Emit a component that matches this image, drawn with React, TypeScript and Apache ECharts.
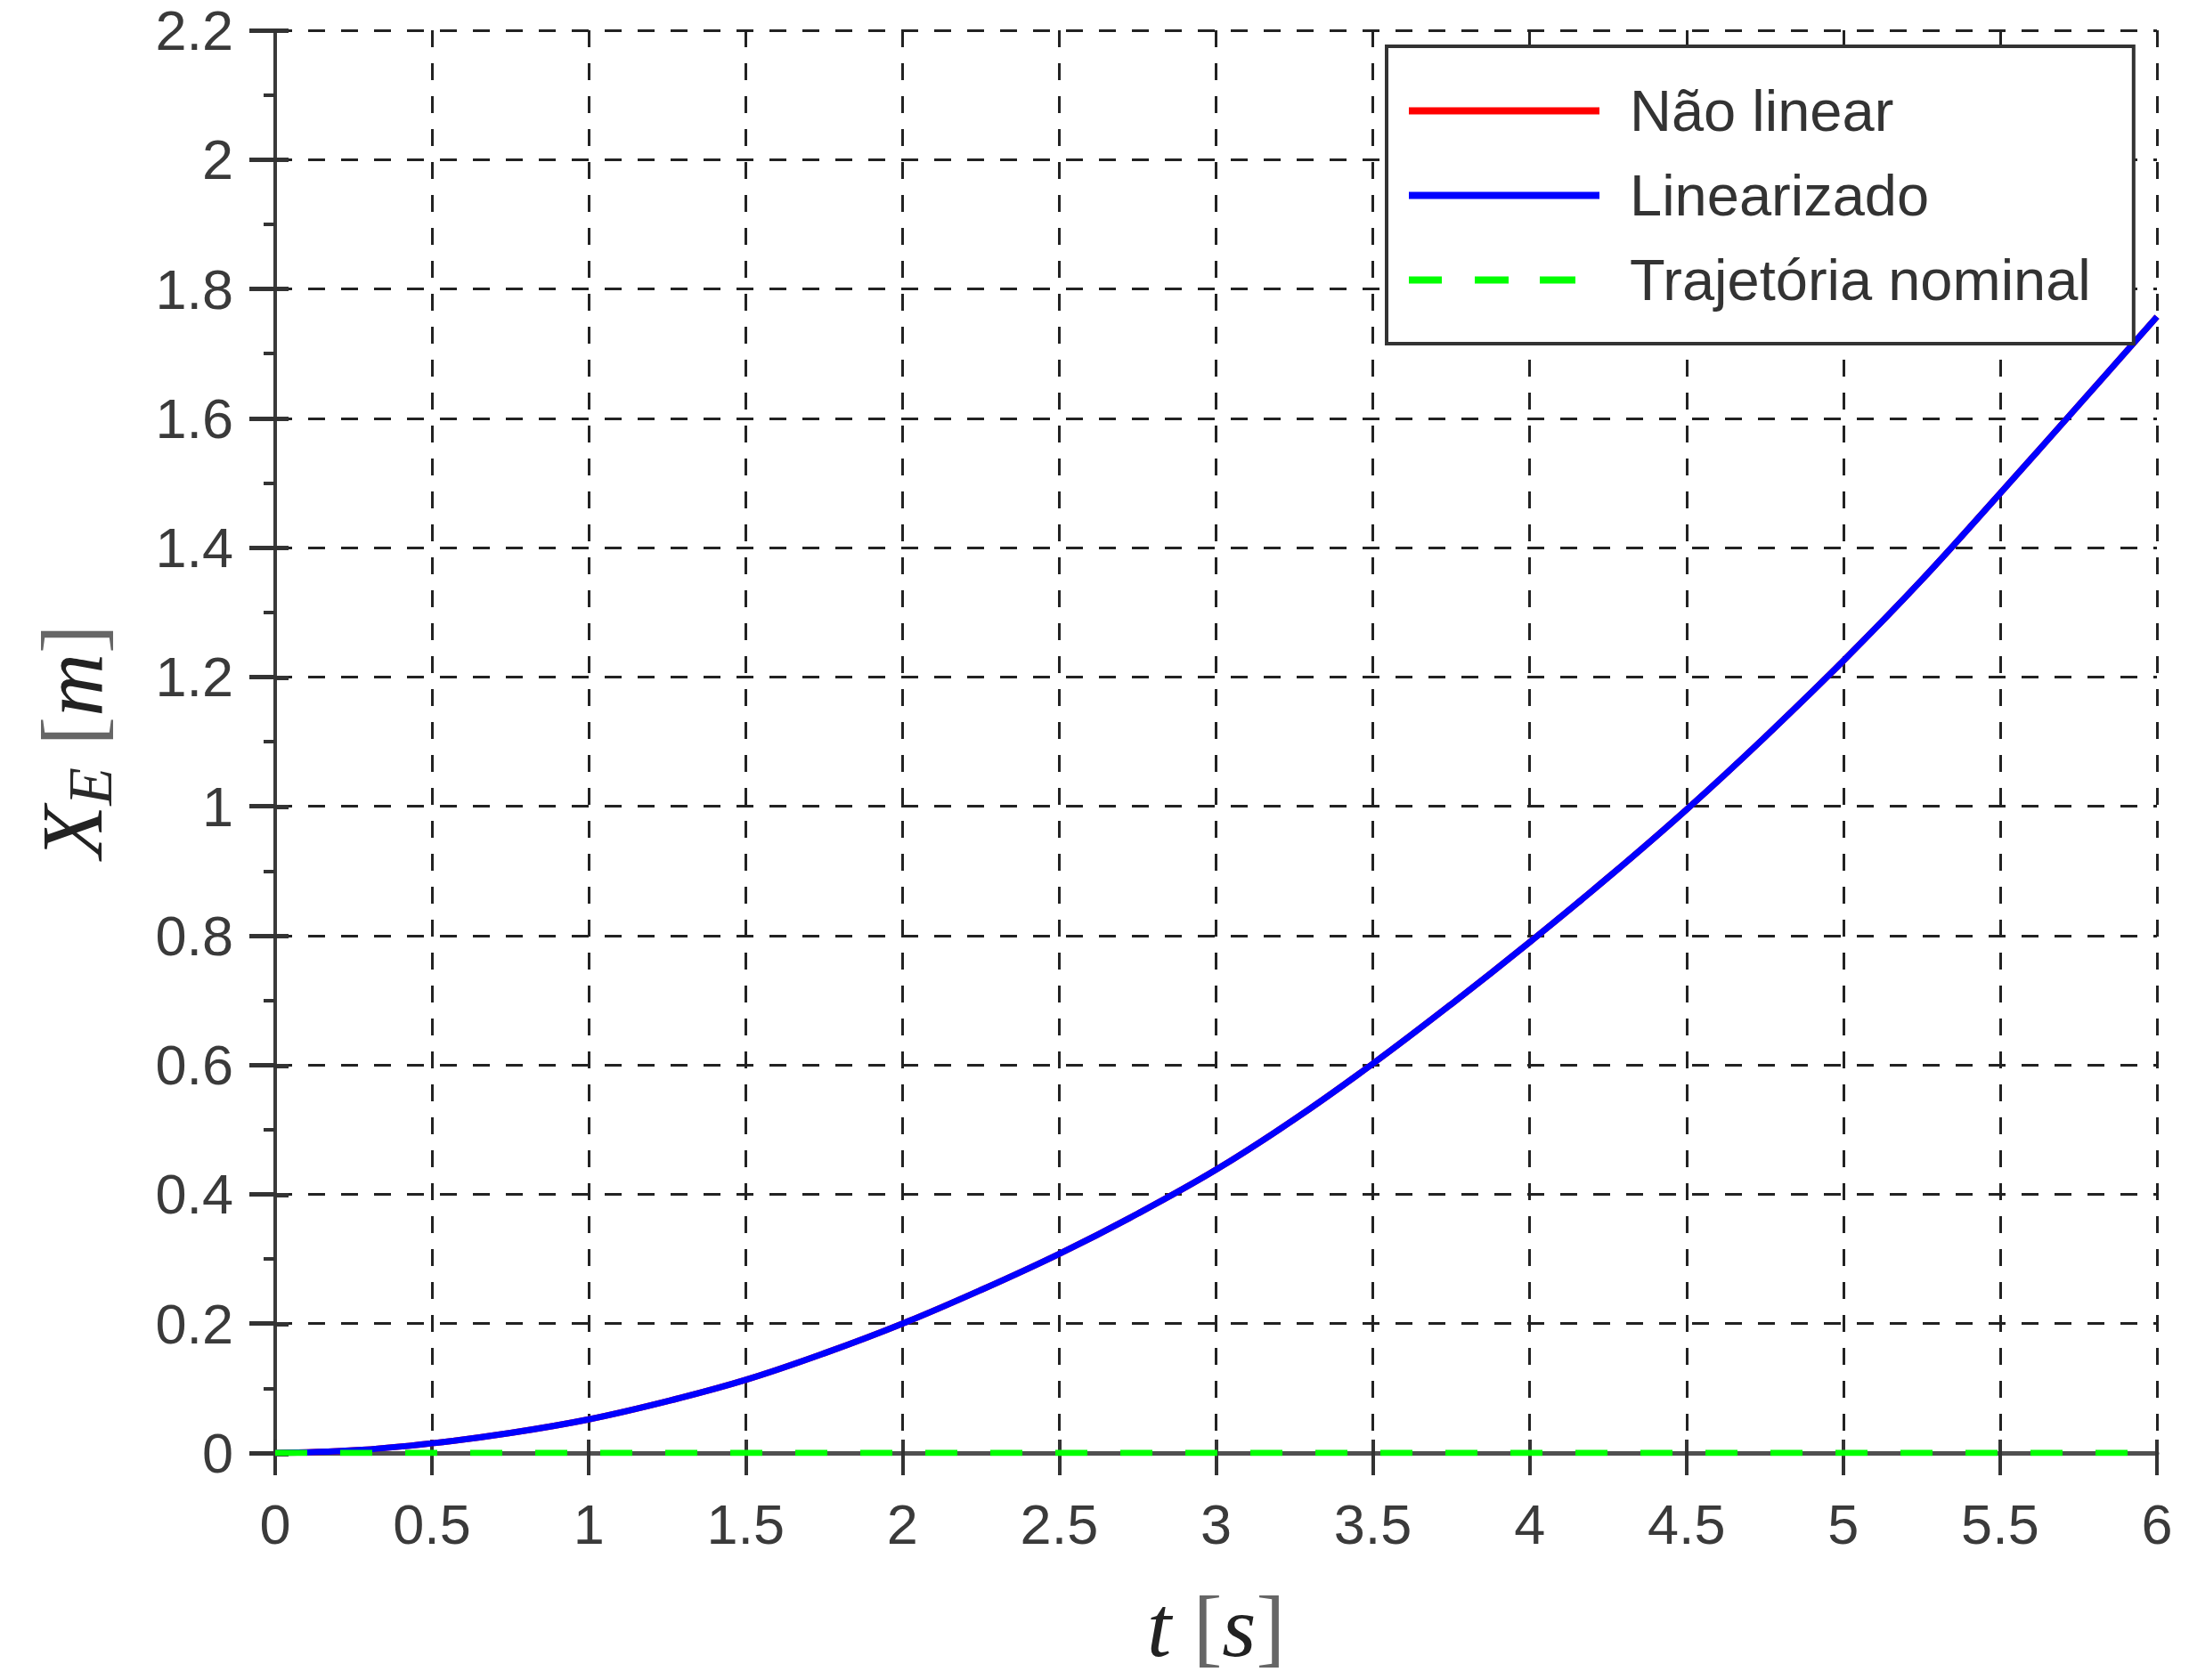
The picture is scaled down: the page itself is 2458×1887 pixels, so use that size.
import { useEffect, useRef } from 'react';
import * as echarts from 'echarts';

// Tempo de simulação [s]
const tempo = [0, 0.25, 0.5, 0.75, 1, 1.25, 1.5, 1.75, 2, 2.25, 2.5, 2.75, 3, 3.25, 3.5, 3.75, 4, 4.25, 4.5, 4.75, 5, 5.25, 5.5, 5.75, 6];

// Posição X_E [m] de cada modelo
const naoLinear = [0, 0.004, 0.015, 0.031, 0.052, 0.08, 0.113, 0.154, 0.2, 0.252, 0.308, 0.37, 0.438, 0.516, 0.602, 0.694, 0.79, 0.89, 0.995, 1.107, 1.225, 1.35, 1.484, 1.62, 1.757];
const linearizado = [0, 0.004, 0.015, 0.031, 0.052, 0.08, 0.113, 0.154, 0.2, 0.252, 0.308, 0.37, 0.438, 0.516, 0.602, 0.694, 0.79, 0.89, 0.995, 1.107, 1.225, 1.35, 1.484, 1.62, 1.757];
const trajetoriaNominal = [0, 0, 0, 0, 0, 0, 0, 0, 0, 0, 0, 0, 0, 0, 0, 0, 0, 0, 0, 0, 0, 0, 0, 0, 0];

const nomesSeries = ['Não linear', 'Linearizado', 'Trajetória nominal'];

const X_MIN = 0;
const X_MAX = 6;
const X_STEP = 0.5;
const Y_MIN = 0;
const Y_MAX = 2.2;
const Y_STEP = 0.2;

const SANS = "'Liberation Sans', Arial, sans-serif";
const SERIF = "'Liberation Serif', 'Times New Roman', serif";

// Legend swatches: a solid bar and a three-dash bar, both 214 x 8
const ICON_SOLIDO = 'path://M0 0H214V8H0Z';
const ICON_TRACEJADO = 'path://M0 0H37V8H0Z M74 0H112V8H74Z M147 0H187V8H147Z M214 4L214 4';

const pares = (ys: number[]) => tempo.map((t, i) => [t, ys[i]]);

const gridBox = { left: 309, right: 36, top: 34, bottom: 254 };

const gridLine = { color: '#222', width: 3, type: [19, 18] as number[] };

function buildOption(): echarts.EChartsOption {
  return {
    animation: false,
    backgroundColor: '#ffffff',
    grid: [
      { ...gridBox, containLabel: false },
      { ...gridBox, containLabel: false },
    ],
    legend: {
      orient: 'vertical',
      left: 1557,
      top: 52,
      data: [
        { name: nomesSeries[0], icon: ICON_SOLIDO },
        { name: nomesSeries[1], icon: ICON_SOLIDO },
        { name: nomesSeries[2], icon: ICON_TRACEJADO },
      ],
      selectedMode: false,
      itemWidth: 214,
      itemHeight: 8,
      itemGap: 30,
      itemStyle: { borderWidth: 0 },
      padding: [40, 48, 39, 25],
      borderColor: '#333',
      borderWidth: 4,
      backgroundColor: '#ffffff',
      textStyle: {
        fontFamily: SANS,
        fontSize: 65,
        lineHeight: 64,
        color: '#333',
        padding: [0, 0, 0, 29],
      },
    },
    xAxis: [
      {
        type: 'value',
        gridIndex: 0,
        min: X_MIN,
        max: X_MAX,
        interval: X_STEP,
        name: '{i|t} {b|[}{i|s}{b|]}',
        nameLocation: 'middle',
        nameGap: 140,
        nameTextStyle: {
          fontFamily: SERIF,
          fontSize: 98,
          lineHeight: 110,
          color: '#333',
          rich: {
            i: { fontFamily: SERIF, fontStyle: 'italic', fontSize: 98, lineHeight: 110, color: '#222' },
            b: { fontFamily: SERIF, fontSize: 98, lineHeight: 110, color: '#666' },
          },
        },
        axisLine: { show: true, onZero: true, lineStyle: { color: '#505050', width: 5 } },
        axisTick: { show: true, inside: false, length: 25, lineStyle: { color: '#333', width: 4 } },
        axisLabel: { margin: 48, fontFamily: SANS, fontSize: 63, lineHeight: 63, color: '#3a3a3a' },
        splitLine: { show: true, lineStyle: gridLine },
      },
      {
        type: 'value',
        gridIndex: 1,
        min: X_MIN,
        max: X_MAX,
        interval: X_STEP,
        axisLine: { show: false },
        axisTick: { show: true, inside: true, length: 16, lineStyle: { color: '#333', width: 4 } },
        axisLabel: { show: false },
        splitLine: { show: false },
      },
    ],
    yAxis: [
      {
        type: 'value',
        gridIndex: 0,
        min: Y_MIN,
        max: Y_MAX,
        interval: Y_STEP,
        name: '{i|X}{sub|E} {b|[}{i|m}{b|]}',
        nameLocation: 'middle',
        nameRotate: 90,
        nameGap: 173,
        nameTextStyle: {
          fontFamily: SERIF,
          fontSize: 98,
          lineHeight: 110,
          color: '#333',
          rich: {
            i: { fontFamily: SERIF, fontStyle: 'italic', fontSize: 98, lineHeight: 110, color: '#222' },
            sub: { fontFamily: SERIF, fontStyle: 'italic', fontSize: 70, lineHeight: 66, verticalAlign: 'bottom', color: '#2a2a2a' },
            b: { fontFamily: SERIF, fontSize: 98, lineHeight: 110, color: '#666' },
          },
        },
        axisLine: { show: true, lineStyle: { color: '#3a3a3a', width: 4 } },
        axisTick: { show: true, inside: false, length: 29, lineStyle: { color: '#333', width: 5 } },
        minorTick: { show: true, splitNumber: 2, length: 13, lineStyle: { color: '#333', width: 4 } },
        axisLabel: { margin: 47, fontFamily: SANS, fontSize: 63, lineHeight: 63, color: '#3a3a3a' },
        splitLine: { show: true, lineStyle: gridLine },
      },
      {
        type: 'value',
        gridIndex: 1,
        min: Y_MIN,
        max: Y_MAX,
        interval: Y_STEP,
        axisLine: { show: false },
        axisTick: { show: true, inside: true, length: 15, lineStyle: { color: '#333', width: 5 } },
        axisLabel: { show: false },
        splitLine: { show: false },
      },
    ],
    series: [
      {
        name: nomesSeries[0],
        type: 'line',
        xAxisIndex: 0,
        yAxisIndex: 0,
        data: pares(naoLinear),
        symbol: 'none',
        smooth: 0.4,
        lineStyle: { color: '#ff0000', width: 7 },
        itemStyle: { color: '#ff0000' },
      },
      {
        name: nomesSeries[1],
        type: 'line',
        xAxisIndex: 0,
        yAxisIndex: 0,
        data: pares(linearizado),
        symbol: 'none',
        smooth: 0.4,
        lineStyle: { color: '#0000ff', width: 7 },
        itemStyle: { color: '#0000ff' },
      },
      {
        name: nomesSeries[2],
        type: 'line',
        xAxisIndex: 0,
        yAxisIndex: 0,
        data: pares(trajetoriaNominal),
        symbol: 'none',
        lineStyle: { color: '#00ff00', width: 7, type: [36, 37] },
        itemStyle: { color: '#00ff00' },
      },
    ],
  };
}

export default function App() {
  const ref = useRef<HTMLDivElement>(null);

  useEffect(() => {
    if (!ref.current) return;
    const chart = echarts.init(ref.current, null, { renderer: 'svg' });
    chart.setOption(buildOption());
    return () => {
      chart.dispose();
    };
  }, []);

  return (
    <div
      ref={ref}
      style={{ position: 'fixed', left: 0, top: 0, width: 2458, height: 1887, background: '#ffffff' }}
    />
  );
}
